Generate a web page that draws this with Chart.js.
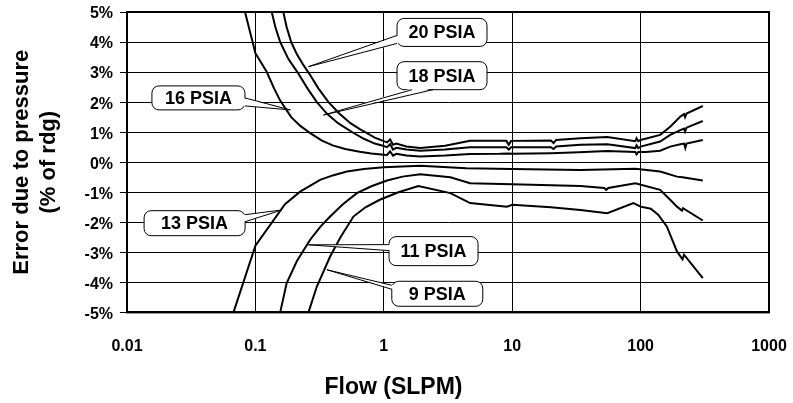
<!DOCTYPE html>
<html>
<head>
<meta charset="utf-8">
<script src="https://cdn.jsdelivr.net/npm/chart.js@4/dist/chart.umd.min.js"></script>
<style>
  html, body { margin: 0; padding: 0; background: #fff; }
  #wrap { width: 793px; height: 403px; }
</style>
</head>
<body>
<div id="wrap"><canvas id="flowError"></canvas></div>
<script>
// flow (SLPM) vs error (% of rdg) for each inlet pressure
const flow20 = [0.165, 0.175, 0.19, 0.21, 0.235, 0.267, 0.31, 0.371, 0.45, 0.55, 0.65, 0.74, 0.85, 1.0, 1.06, 1.12, 1.18, 1.25, 1.5, 1.92, 3, 4.7, 9.0, 9.4, 9.8, 20, 21, 22, 34, 55, 91, 93, 96, 100, 142, 170, 204, 218, 222, 228, 305];
const err20  = [5.0, 4.5, 4.0, 3.6, 3.25, 2.9, 2.45, 2.0, 1.62, 1.3, 1.1, 0.97, 0.82, 0.70, 0.66, 0.76, 0.58, 0.62, 0.52, 0.47, 0.55, 0.71, 0.71, 0.58, 0.71, 0.72, 0.64, 0.74, 0.80, 0.84, 0.70, 0.80, 0.70, 0.74, 0.91, 1.18, 1.52, 1.60, 1.50, 1.62, 1.87];

const flow18 = [0.134, 0.143, 0.156, 0.18, 0.216, 0.255, 0.301, 0.36, 0.44, 0.577, 0.7, 0.85, 1.0, 1.06, 1.12, 1.18, 1.25, 1.5, 1.92, 3, 4.7, 9.0, 9.4, 9.8, 20, 21, 22, 34, 55, 91, 93, 96, 100, 142, 170, 204, 218, 222, 228, 305];
const err18  = [5.0, 4.5, 4.0, 3.45, 2.95, 2.45, 2.0, 1.62, 1.3, 0.98, 0.78, 0.62, 0.54, 0.50, 0.60, 0.42, 0.48, 0.42, 0.38, 0.42, 0.50, 0.50, 0.42, 0.50, 0.50, 0.44, 0.52, 0.58, 0.60, 0.47, 0.56, 0.47, 0.52, 0.69, 0.91, 1.07, 1.12, 1.02, 1.15, 1.37];

const flow16 = [0.083, 0.1, 0.1227, 0.14, 0.156, 0.19, 0.225, 0.267, 0.33, 0.4, 0.5, 0.65, 0.8, 1.0, 1.06, 1.12, 1.18, 1.25, 1.5, 1.92, 3, 4.7, 8, 9.4, 10, 20, 33, 55, 91, 93, 96, 110, 142, 170, 204, 218, 223, 228, 305];
const err16  = [5.0, 3.63, 3.0, 2.45, 2.05, 1.5, 1.2, 0.97, 0.72, 0.56, 0.44, 0.35, 0.29, 0.25, 0.24, 0.36, 0.22, 0.28, 0.22, 0.19, 0.22, 0.27, 0.28, 0.29, 0.28, 0.30, 0.33, 0.37, 0.34, 0.26, 0.34, 0.34, 0.38, 0.52, 0.60, 0.62, 0.47, 0.62, 0.74];

const flow13 = [0.0675, 0.1, 0.17, 0.223, 0.27, 0.319, 0.4, 0.515, 0.7, 1.0, 1.92, 4.4, 10, 34, 91, 142, 192, 212, 305];
const err13  = [-5.0, -2.78, -1.40, -0.98, -0.77, -0.59, -0.44, -0.31, -0.23, -0.17, -0.12, -0.20, -0.23, -0.26, -0.22, -0.31, -0.48, -0.50, -0.61];

const flow11 = [0.156, 0.175, 0.21, 0.267, 0.32, 0.382, 0.48, 0.617, 0.8, 1.06, 1.4, 1.92, 3.3, 4.7, 10, 34, 52, 54, 56, 91, 142, 170, 192, 210, 214, 305];
const err11  = [-5.0, -4.03, -3.3, -2.58, -2.15, -1.81, -1.4, -1.03, -0.8, -0.61, -0.48, -0.40, -0.50, -0.70, -0.73, -0.79, -0.86, -0.92, -0.86, -0.70, -0.92, -1.25, -1.48, -1.61, -1.53, -1.94];

const flow9 = [0.259, 0.301, 0.382, 0.46, 0.58, 0.72, 0.93, 1.3, 1.86, 3.3, 4.7, 9.1, 10, 20, 34, 55, 88, 100, 120, 137, 160, 192, 212, 218, 305];
const err9  = [-5.0, -4.14, -3.14, -2.5, -1.81, -1.5, -1.25, -1.0, -0.79, -1.03, -1.36, -1.48, -1.42, -1.50, -1.59, -1.70, -1.36, -1.48, -1.55, -1.75, -2.14, -2.97, -3.23, -3.08, -3.86];

const seriesNames = ["20 PSIA", "18 PSIA", "16 PSIA", "13 PSIA", "11 PSIA", "9 PSIA"];
const xTickValues = [0.01, 0.1, 1, 10, 100, 1000];
const xTickLabels = ["0.01", "0.1", "1", "10", "100", "1000"];

const flows = [flow20, flow18, flow16, flow13, flow11, flow9];
const errors = [err20, err18, err16, err13, err11, err9];

// callout boxes: centre and pointer tip in data units, box size in px
const callouts = [
  { x: 2.84,   y: 4.32,  tipX: 0.259, tipY: 3.18,  w: 90,  h: 28, side: "left",   a: 17, b: 25 },
  { x: 2.84,   y: 2.88,  tipX: 0.339, tipY: 1.57,  w: 90,  h: 28, side: "bottom", a: 15, b: 36 },
  { x: 0.036,  y: 2.14,  tipX: 0.187, tipY: 1.74,  w: 93,  h: 24, side: "right",  a: 12, b: 20 },
  { x: 0.0336, y: -2.03, tipX: 0.161, tipY: -1.59, w: 101, h: 25, side: "right",  a: 4,  b: 11 },
  { x: 2.44,   y: -2.96, tipX: 0.259, tipY: -2.75, w: 89,  h: 29, side: "left",   a: 8,  b: 14 },
  { x: 2.61,   y: -4.38, tipX: 0.36,  tipY: -3.58, w: 91,  h: 25, side: "left",   a: 4,  b: 8 }
];

const FONT = '"Liberation Sans", Arial, sans-serif';
Chart.defaults.font.family = FONT;
Chart.defaults.color = "#000";

const calloutPlugin = {
  id: "callouts",
  afterDatasetsDraw(chart) {
    const ctx = chart.ctx;
    const xs = chart.scales.x, ys = chart.scales.y;
    callouts.forEach((c, i) => {
      const cx = xs.getPixelForValue(c.x), cy = ys.getPixelForValue(c.y);
      const tx = xs.getPixelForValue(c.tipX), ty = ys.getPixelForValue(c.tipY);
      const l = cx - c.w / 2, t = cy - c.h / 2;
      ctx.save();
      ctx.lineWidth = 1;
      ctx.strokeStyle = "#000";
      ctx.fillStyle = "#fff";
      ctx.beginPath();
      ctx.roundRect(l, t, c.w, c.h, 7);
      ctx.fill();
      ctx.stroke();
      let b1, b2, o1, o2;
      if (c.side === "left") {
        b1 = [l, t + c.a]; b2 = [l, t + c.b]; o1 = [l + 1.5, t + c.a]; o2 = [l + 1.5, t + c.b];
      } else if (c.side === "right") {
        b1 = [l + c.w, t + c.a]; b2 = [l + c.w, t + c.b]; o1 = [l + c.w - 1.5, t + c.a]; o2 = [l + c.w - 1.5, t + c.b];
      } else {
        b1 = [l + c.a, t + c.h]; b2 = [l + c.b, t + c.h]; o1 = [l + c.a, t + c.h - 1.5]; o2 = [l + c.b, t + c.h - 1.5];
      }
      ctx.beginPath();
      ctx.moveTo(o1[0], o1[1]); ctx.lineTo(tx, ty); ctx.lineTo(o2[0], o2[1]); ctx.closePath();
      ctx.fill();
      ctx.beginPath();
      ctx.moveTo(b1[0], b1[1]); ctx.lineTo(tx, ty); ctx.lineTo(b2[0], b2[1]);
      ctx.stroke();
      ctx.fillStyle = "#000";
      ctx.font = "bold 18px " + FONT;
      ctx.textAlign = "center";
      ctx.textBaseline = "middle";
      ctx.fillText(seriesNames[i], cx, cy + 1);
      ctx.restore();
    });
  },
  afterDraw(chart) {
    const a = chart.chartArea, ctx = chart.ctx;
    ctx.save();
    ctx.lineWidth = 2;
    ctx.strokeStyle = "#000";
    ctx.strokeRect(a.left, a.top, a.right - a.left, a.bottom - a.top);
    ctx.restore();
  }
};

new Chart("flowError", {
  type: "line",
  data: {
    datasets: seriesNames.map((name, i) => ({
      label: name,
      data: flows[i].map((f, j) => ({ x: f, y: errors[i][j] })),
      borderColor: "#000",
      borderWidth: 2,
      pointRadius: 0,
      tension: 0,
      fill: false
    }))
  },
  options: {
    responsive: true,
    maintainAspectRatio: false,
    animation: false,
    events: [],
    layout: { padding: { top: 12, right: 6, left: 0, bottom: 0 } },
    plugins: {
      legend: { display: false },
      tooltip: { enabled: false },
      title: {
        display: true,
        position: "bottom",
        text: "Flow (SLPM)",
        color: "#000",
        font: { size: 23, weight: "bold", lineHeight: 1.2 },
        padding: { top: 0, bottom: 2 }
      }
    },
    scales: {
      x: {
        type: "logarithmic",
        min: 0.01,
        max: 1000,
        afterBuildTicks: (s) => { s.ticks = xTickValues.map(v => ({ value: v })); },
        afterFit: (s) => { s.height = 61; s.paddingLeft = 0; s.paddingRight = 24; },
        ticks: {
          autoSkip: false,
          maxRotation: 0,
          padding: 25,
          font: { size: 16, weight: "bold" },
          callback: (v, i) => xTickLabels[i]
        },
        grid: { color: "#000", lineWidth: 1, drawTicks: false },
        border: { color: "#000", width: 2 }
      },
      y: {
        min: -5,
        max: 5,
        afterFit: (s) => { s.width = 127; s.paddingTop = 0; s.paddingBottom = 0; },
        ticks: {
          stepSize: 1,
          padding: 7,
          labelOffset: 2,
          font: { size: 16, weight: "bold" },
          callback: (v) => v + "%"
        },
        grid: { color: "#000", lineWidth: 1, tickLength: 7 },
        border: { color: "#000", width: 2 },
        title: {
          display: true,
          text: ["Error due to pressure", "(% of rdg)"],
          color: "#000",
          font: { size: 22, weight: "bold", lineHeight: 1.2 },
          padding: { top: 9, bottom: 0 }
        }
      }
    }
  },
  plugins: [calloutPlugin]
});
</script>
</body>
</html>
